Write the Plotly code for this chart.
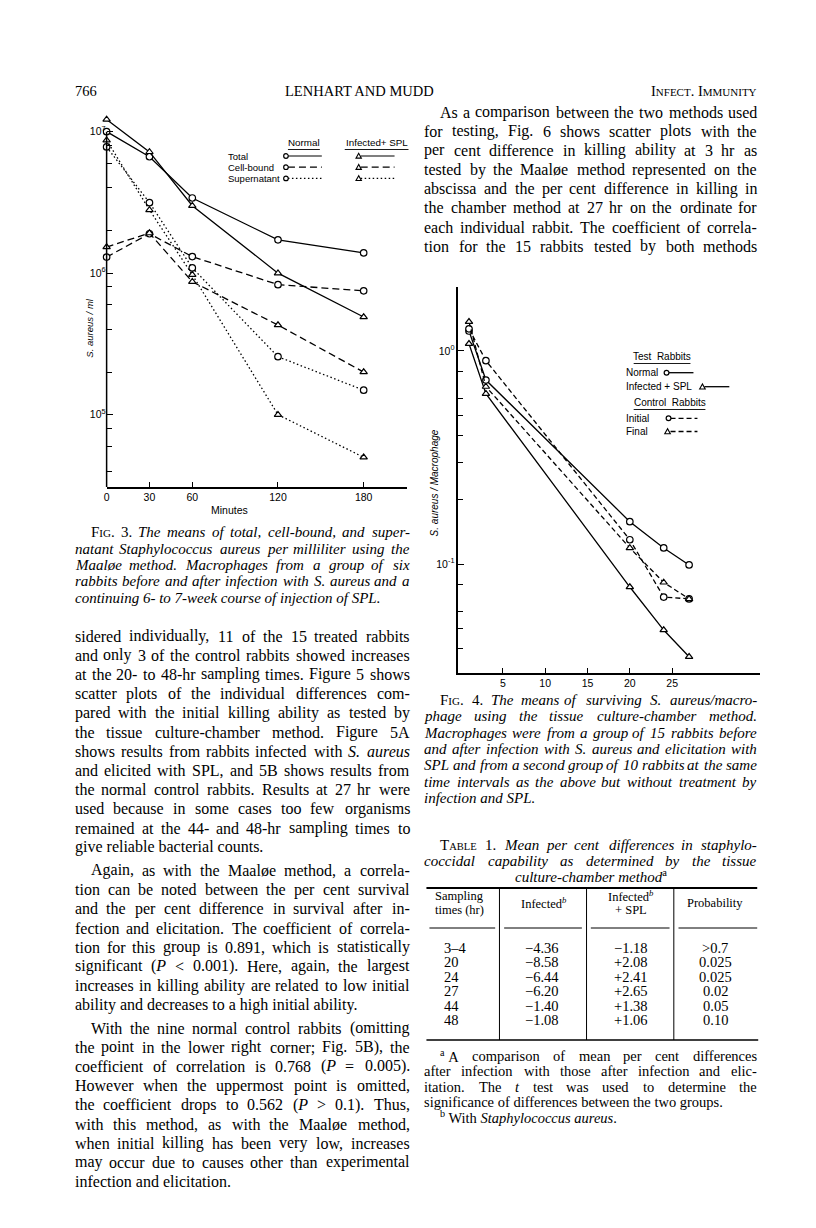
import re
import plotly.graph_objects as go

W, H = 816, 1228
SERIF = "Liberation Serif"
SANS = "Liberation Sans"

# ---- Fig. 3: S. aureus per ml, Maaloe method
minutes = [0, 30, 60, 120, 180]
normal_total = [1.0e7, 6.65e6, 3.4e6, 1.72e6, 1.39e6]
infected_total = [1.22e7, 7.2e6, 3.0e6, 1.0e6, 4.9e5]
normal_cell = [1.3e6, 1.9e6, 1.31e6, 8.3e5, 7.5e5]
infected_cell = [1.53e6, 1.92e6, 8.7e5, 4.3e5, 2.0e5]
normal_super = [7.8e6, 3.15e6, 1.09e6, 2.57e5, 1.49e5]
infected_super = [8.7e6, 2.8e6, 9.75e5, 1.0e5, 5.0e4]

# ---- Fig. 4: S. aureus per macrophage, culture-chamber method
hours = [1, 3, 20, 24, 27]
test_normal = [1.24, 0.73, 0.158, 0.119, 0.099]
test_infected = [1.08, 0.63, 0.078, 0.049, 0.0367]
control_initial = [1.27, 0.90, 0.130, 0.070, 0.0686]
control_final = [1.37, 0.68, 0.119, 0.082, 0.0686]

# ---- Table 1
sampling_times = ["3–4", "20", "24", "27", "44", "48"]
infected_diff = ["−4.36", "−8.58", "−6.44", "−6.20", "−1.40", "−1.08"]
infected_spl_diff = ["−1.18", "+2.08", "+2.41", "+2.65", "+1.38", "+1.06"]
probability = [">0.7", "0.025", "0.025", "0.02", "0.05", "0.10"]

NB = "\u00a0"  # keeps a footnote mark with its word


def ital(s):
    return " ".join("<i>" + w + "</i>" for w in s.split(" "))


FIG = "F<span style='font-size:11px'>IG</span>."

# ---- page text
right_par = [
    "As a comparison between the two methods used",
    "for testing, Fig. 6 shows scatter plots with the",
    "per cent difference in killing ability at 3 hr as",
    "tested by the Maaløe method represented on the",
    "abscissa and the per cent difference in killing in",
    "the chamber method at 27 hr on the ordinate for",
    "each individual rabbit. The coefficient of correla-",
    "tion for the 15 rabbits tested by both methods",
]
fig3_caption = [
    FIG + " 3. " + ital("The means of total, cell-bound, and super-"),
    ital("natant Staphylococcus aureus per milliliter using the"),
    ital("Maaløe method. Macrophages from a group of six"),
    ital("rabbits before and after infection with S. aureus and a"),
    ital("continuing 6- to 7-week course of injection of SPL."),
]
left_body = [
    ["sidered individually, 11 of the 15 treated rabbits",
     "and only 3 of the control rabbits showed increases",
     "at the 20- to 48-hr sampling times. Figure 5 shows",
     "scatter plots of the individual differences com-",
     "pared with the initial killing ability as tested by",
     "the tissue culture-chamber method. Figure 5A",
     "shows results from rabbits infected with <i>S.</i> <i>aureus</i>",
     "and elicited with SPL, and 5B shows results from",
     "the normal control rabbits. Results at 27 hr were",
     "used because in some cases too few organisms",
     "remained at the 44- and 48-hr sampling times to",
     "give reliable bacterial counts."],
    ["Again, as with the Maaløe method, a correla-",
     "tion can be noted between the per cent survival",
     "and the per cent difference in survival after in-",
     "fection and elicitation. The coefficient of correla-",
     "tion for this group is 0.891, which is statistically",
     "significant (<i>P</i> &lt; 0.001). Here, again, the largest",
     "increases in killing ability are related to low initial",
     "ability and decreases to a high initial ability."],
    ["With the nine normal control rabbits (omitting",
     "the point in the lower right corner; Fig. 5B), the",
     "coefficient of correlation is 0.768 (<i>P</i> = 0.005).",
     "However when the uppermost point is omitted,",
     "the coefficient drops to 0.562 (<i>P</i> &gt; 0.1). Thus,",
     "with this method, as with the Maaløe method,",
     "when initial killing has been very low, increases",
     "may occur due to causes other than experimental",
     "infection and elicitation."],
]
fig4_caption = [
    FIG + " 4. " + ital("The means of surviving S. aureus/macro-"),
    ital("phage using the tissue culture-chamber method."),
    ital("Macrophages were from a group of 15 rabbits before"),
    ital("and after infection with S. aureus and elicitation with"),
    ital("SPL and from a second group of 10 rabbits at the same"),
    ital("time intervals as the above but without treatment by"),
    ital("infection and SPL."),
]
table_title = [
    "T<span style='font-size:10.5px'>ABLE</span> 1. " + ital("Mean per cent differences in staphylo-"),
    ital("coccidal capability as determined by the tissue"),
    "<i>culture-chamber method</i><sup>a</sup>",
]
footnotes = [
    "<sup>a</sup>" + NB + "A comparison of mean per cent differences",
    "after infection with those after infection and elic-",
    "itation. The <i>t</i> test was used to determine the",
    "significance of differences between the two groups.",
    "<sup>b</sup> With <i>Staphylococcus</i> <i>aureus</i>.",
]

# Times-compatible advance widths (1/1000 em), used to justify lines
ROMAN = dict(zip("abcdefghijklmnopqrstuvwxyz",
                 [444, 500, 444, 500, 444, 333, 500, 500, 278, 278, 500, 278, 778,
                  500, 500, 500, 500, 333, 389, 278, 500, 500, 722, 500, 500, 444]))
ROMAN.update(zip("ABCDEFGHIJKLMNOPQRSTUVWXYZ",
                 [722, 667, 667, 722, 611, 556, 722, 722, 333, 389, 722, 611, 889,
                  722, 722, 556, 722, 667, 556, 611, 722, 722, 944, 722, 722, 611]))
ITALIC = dict(zip("abcdefghijklmnopqrstuvwxyz",
                  [500, 500, 444, 500, 444, 278, 500, 500, 278, 278, 444, 278, 722,
                   500, 500, 500, 500, 389, 389, 278, 500, 444, 667, 444, 444, 389]))
ITALIC.update(zip("ABCDEFGHIJKLMNOPQRSTUVWXYZ",
                  [611, 611, 667, 722, 611, 611, 722, 722, 333, 444, 667, 556, 833,
                   667, 722, 611, 722, 611, 500, 556, 722, 611, 833, 611, 556, 556]))
PUNCT = {" ": 250, NB: 250, ",": 250, ".": 250, "-": 333, "(": 333, ")": 333, ";": 278,
         ":": 278, "/": 278, "<": 564, ">": 564, "=": 564, "+": 564, "ø": 500, "–": 500,
         "−": 564}
ROMAN.update(PUNCT)
ITALIC.update(PUNCT)


def html_width(word, size):
    w, it, scale = 0.0, False, 1.0
    word = word.replace("&lt;", "<").replace("&gt;", ">")
    for tok in re.split(r"(<[a-z/][^>]*>)", word):
        if not tok:
            continue
        if tok.startswith("<") and len(tok) > 1 and (tok[1].isalpha() or tok[1] == "/"):
            if tok == "<i>":
                it = True
            elif tok == "</i>":
                it = False
            elif tok.startswith("<sup"):
                scale = 0.7
            elif tok.startswith("<span"):
                m = re.search(r"font-size:([\d.]+)px", tok)
                scale = float(m.group(1)) / size
            else:
                scale = 1.0
            continue
        table = ITALIC if it else ROMAN
        w += sum(table.get(c, 500) for c in tok) * size * scale / 1000
    return w * 1.01


fig = go.Figure()
ann = []
shapes = []


def X(x):
    return x / W


def Y(y):
    return 1 - y / H


def text(x, y, s, size=16, family=SERIF, anchor="left", angle=0):
    ann.append(dict(x=X(x), y=Y(y), xref="paper", yref="paper", text=s,
                    showarrow=False, xanchor=anchor, yanchor="middle",
                    textangle=angle, borderpad=0, borderwidth=0,
                    font=dict(family=family, size=size, color="black")))


def line_text(x0, x1, y, s, size=16, justify=True):
    words = re.findall(r"(?:<[^>]*>|[^ <])+", s)
    if not justify or len(words) < 2:
        text(x0, y, s, size)
        return
    widths = [html_width(w, size) for w in words]
    gap = (x1 - x0 - sum(widths)) / (len(words) - 1)
    half = (len(words) + 1) // 2
    # left half measured from the left margin, right half from the right margin
    x = x0
    for w, wd in zip(words[:half], widths[:half]):
        text(x, y, w, size)
        x += wd + gap
    x = x1
    for w, wd in zip(words[half:][::-1], widths[half:][::-1]):
        text(x, y, w, size, anchor="right")
        x -= wd + gap


def hline(x0, x1, y, width=1.0, dash="solid"):
    shapes.append(dict(type="line", xref="paper", yref="paper",
                       x0=X(x0), x1=X(x1), y0=Y(y), y1=Y(y),
                       line=dict(color="black", width=width, dash=dash)))


def vline(x, y0, y1, width=1.0):
    shapes.append(dict(type="line", xref="paper", yref="paper",
                       x0=X(x), x1=X(x), y0=Y(y0), y1=Y(y1),
                       line=dict(color="black", width=width)))


def circle(cx, cy, r=2.6):
    shapes.append(dict(type="circle", xref="paper", yref="paper",
                       x0=X(cx - r), x1=X(cx + r), y0=Y(cy + r), y1=Y(cy - r),
                       fillcolor="white", line=dict(color="black", width=1.2)))


def triangle(cx, cy, r=3.2):
    p = "M {} {} L {} {} L {} {} Z".format(X(cx), Y(cy - r), X(cx - r), Y(cy + r * 0.8),
                                           X(cx + r), Y(cy + r * 0.8))
    shapes.append(dict(type="path", xref="paper", yref="paper", path=p,
                       fillcolor="white", line=dict(color="black", width=1.1)))


def series(x, y, dash, symbol, xa, ya, size=6.5):
    fig.add_trace(go.Scatter(
        x=x, y=y, mode="lines+markers", xaxis=xa, yaxis=ya, cliponaxis=False,
        line=dict(color="black", width=1.3, dash=dash),
        marker=dict(symbol=symbol, size=size, color="white",
                    line=dict(color="black", width=1.2)),
        hoverinfo="skip", showlegend=False))


DASH3 = "7px,4px"
DOT3 = "1.5px,2.5px"
DASH4 = "5px,3px"

# Fig. 3 curves
series(minutes, normal_total, "solid", "circle", "x", "y")
series(minutes, infected_total, "solid", "triangle-up", "x", "y")
series(minutes, normal_cell, DASH3, "circle", "x", "y")
series(minutes, infected_cell, DASH3, "triangle-up", "x", "y")
series(minutes, normal_super, DOT3, "circle", "x", "y")
series(minutes, infected_super, DOT3, "triangle-up", "x", "y")

# Fig. 4 curves
series(hours, test_normal, "solid", "circle", "x2", "y2")
series(hours, test_infected, "solid", "triangle-up", "x2", "y2")
series(hours, control_initial, DASH4, "circle", "x2", "y2")
series(hours, control_final, DASH4, "triangle-up", "x2", "y2")

y3_range = [4.489, 7.12]
y4_range = [-1.51, 0.30]


def minor_ticks(lo, hi, mults):
    return [m * 10 ** e for e in range(lo, hi + 1) for m in mults]


axis_common = dict(showgrid=False, zeroline=False, ticks="inside", tickcolor="black",
                   linecolor="black", tickfont=dict(family=SANS, size=10.5, color="black"))

fig.update_layout(
    width=W, height=H, margin=dict(l=0, r=0, t=0, b=0),
    paper_bgcolor="white", plot_bgcolor="white", showlegend=False,
    xaxis=dict(domain=[X(104), X(405)], range=[0, 210], anchor="y",
               tickvals=minutes, ticklen=5, tickwidth=1.3, showline=True, linewidth=1.5,
               **axis_common),
    yaxis=dict(domain=[Y(487), Y(114.7)], range=y3_range, type="log", anchor="x",
               tickvals=[1e5, 1e6, 1e7],
               ticktext=["10<sup>5</sup>", "10<sup>6</sup>", "10<sup>7</sup>"],
               ticklen=6, tickwidth=1.2, showline=False,
               minor=dict(tickvals=minor_ticks(4, 6, [2, 4, 6, 8]), ticks="inside",
                          ticklen=5, tickcolor="black", showgrid=False),
               **axis_common),
    xaxis2=dict(domain=[X(457), X(760)], range=[-0.26, 35.4], anchor="y2",
                tickvals=[5, 10, 15, 20, 25, 35.3], ticktext=["5", "10", "15", "20", "25", ""],
                ticklen=5, tickwidth=1.2, showline=True, linewidth=1.5, **axis_common),
    yaxis2=dict(domain=[Y(672.7), Y(287)], range=y4_range, type="log", anchor="x2",
                tickvals=[0.1, 1], ticktext=["10<sup>-1</sup>", "10<sup>0</sup>"],
                ticklen=6, tickwidth=1.2, showline=True, linewidth=1.5,
                minor=dict(tickvals=[0.04, 0.05, 0.06, 0.08, 0.2, 0.3, 0.4, 0.5, 0.6, 0.8, 2],
                           ticks="inside", ticklen=5, tickcolor="black", showgrid=False),
                **axis_common),
)

# Fig. 3 y-axis line stops at 10^7
top_frac = (7 - y3_range[0]) / (y3_range[1] - y3_range[0])
shapes.append(dict(type="line", xref="x domain", yref="y domain", x0=0, x1=0, y0=0, y1=top_frac,
                   line=dict(color="black", width=1.5)))

# axis titles
text(227, 510, "Minutes", size=10.5, family=SANS, anchor="center")
text(86, 328, "<i>S. aureus / ml</i>", size=9.5, family=SANS, anchor="center", angle=-90)
text(433, 483, "<i>S. aureus / Macrophage</i>", size=10, family=SANS, anchor="center", angle=-90)

# Fig. 3 key
text(302, 142, "Normal", size=9.8, family=SANS, anchor="center")
hline(286, 318, 149.5, 0.9)
text(375, 142, "Infected+ SPL", size=9.8, family=SANS, anchor="center")
hline(343, 407, 149.5, 0.9)
for i, (lab, d) in enumerate([("Total", "solid"), ("Cell-bound", DASH3), ("Supernatant", DOT3)]):
    yy = 156 + i * 11.2
    text(226, yy, lab, size=9.5, family=SANS)
    hline(286, 320, yy, 1.2, d)
    circle(284, yy, 2.3)
    hline(359, 393, yy, 1.2, d)
    triangle(357, yy, 2.7)

# Fig. 4 key
text(661, 356.5, "Test  Rabbits", size=10, family=SANS, anchor="center")
hline(633, 690, 363.5, 0.9)
text(625, 372.7, "Normal", size=10, family=SANS)
hline(667, 693, 372.7, 1.3)
circle(666, 372.7, 2.4)
text(625, 386.7, "Infected + SPL", size=10, family=SANS)
hline(704, 729, 386.7, 1.3)
triangle(702, 386.7, 2.8)
text(669, 402.5, "Control  Rabbits", size=10, family=SANS, anchor="center")
hline(633, 705, 409.5, 0.9)
text(625, 418.3, "Initial", size=10, family=SANS)
hline(670, 697, 418.3, 1.3, DASH4)
circle(668, 418.3, 2.4)
text(625, 431.5, "Final", size=10, family=SANS)
hline(670, 697, 431.5, 1.3, DASH4)
triangle(667, 431.5, 2.8)

# columns
LX0, LX1 = 72, 408
RX0, RX1 = 423, 757
IND = 16

# running head
text(LX0, 91, "766", size=14.5)
text(358, 91, "LENHART AND MUDD", size=14.5, anchor="center")
text(RX1, 91, "I<span style='font-size:11px'>NFECT</span>. I<span style='font-size:11px'>MMUNITY</span>",
     size=14.5, anchor="right")

# right column paragraph (continues on next page)
for i, s in enumerate(right_par):
    line_text(RX0 + (IND if i == 0 else 0), RX1, 112 + i * 19.2, s)

# Fig. 3 caption
for i, s in enumerate(fig3_caption):
    line_text(LX0 + (IND if i == 0 else 0), LX1, 532 + i * 16.5, s, size=15,
              justify=i < len(fig3_caption) - 1)

# left column body
yy = 636
for p, par in enumerate(left_body):
    for i, s in enumerate(par):
        x0 = LX0 + (IND if (i == 0 and p > 0) else 0)
        line_text(x0, LX1, yy, s, justify=i < len(par) - 1)
        yy += 19.2
    yy += 4

# Fig. 4 caption
for i, s in enumerate(fig4_caption):
    line_text(RX0 + (IND if i == 0 else 0), RX1, 700 + i * 16.3, s, size=15,
              justify=i < len(fig4_caption) - 1)

# Table 1
line_text(RX0 + IND, RX1, 845, table_title[0], size=15)
line_text(RX0, RX1, 860.5, table_title[1], size=15)
text(590, 876, table_title[2], size=15, anchor="center")
hline(425, 757, 888, 2.0)
col_x = [458, 543, 630, 715]
vline(498.3, 888, 1040)
vline(585.7, 888, 1040)
vline(673.3, 888, 1040)
text(col_x[0], 896, "Sampling", size=12.5, anchor="center")
text(col_x[0], 910, "times (hr)", size=12.5, anchor="center")
text(col_x[1], 903, "Infected<sup><i>b</i></sup>", size=12.5, anchor="center")
text(col_x[2], 896, "Infected<sup><i>b</i></sup>", size=12.5, anchor="center")
text(col_x[2], 910, "+ SPL", size=12.5, anchor="center")
text(col_x[3], 903, "Probability", size=12.5, anchor="center")
for a, b in [(428, 494), (503, 581), (590, 669), (678, 757)]:
    hline(a, b, 928, 1.0)
for i in range(len(sampling_times)):
    ry = 948 + i * 14.4
    text(443, ry, sampling_times[i], size=14.5)
    text(541, ry, infected_diff[i], size=14.5, anchor="center")
    text(630, ry, infected_spl_diff[i], size=14.5, anchor="center")
    text(715, ry, probability[i], size=14.5, anchor="center")
hline(425, 758, 1040, 1.6)
for i, s in enumerate(footnotes):
    line_text(RX0 + (IND if i in (0, 4) else 0), RX1, 1056 + i * 15.3, s, size=14.5,
              justify=i < 3)

fig.update_layout(annotations=ann, shapes=shapes)
fig.write_html("out.html", config={"displayModeBar": False},
               post_script="document.body.style.margin='0px';")
